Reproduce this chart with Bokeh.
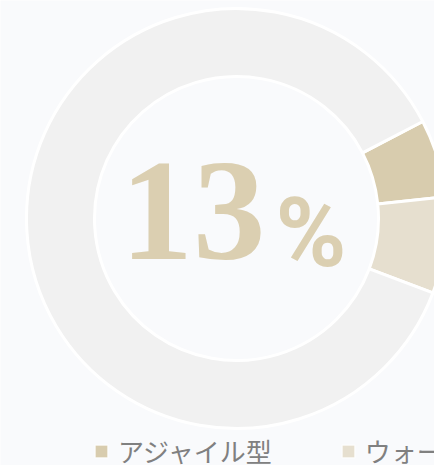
import numpy as np
from bokeh.plotting import figure
from bokeh.models import Range1d, Legend, LegendItem, ColumnDataSource
from bokeh.embed import file_html
from bokeh.resources import INLINE
from bokeh.core.properties import value

# ---- data ----
categories = ["アジャイル型", "ウォーターフォール型", "その他"]
shares = [6.0, 7.4, 86.6]
colors = ["#d8ccae", "#e6dfcf", "#f1f1f1"]
legend_count = 2
center_number = "13"
center_unit = "%"

# ---- layout ----
W, H = 434, 465
BG = "#f9fafc"
p = figure(width=W, height=H, output_backend="svg", toolbar_location=None,
           x_range=Range1d(0, W), y_range=Range1d(0, H), min_border=0)
p.axis.visible = False
p.grid.visible = False
p.outline_line_color = None
p.background_fill_color = BG
p.border_fill_color = BG

cx, cy = 236, H - 218
start0 = np.deg2rad(27.5)
total = float(sum(shares))
ang = np.array(shares) / total * 2 * np.pi
starts = start0 - np.concatenate([[0.0], np.cumsum(ang)[:-1]])
ends = starts - ang

src = ColumnDataSource(dict(cat=categories, start=starts, end=ends, color=colors))
p.annular_wedge(x=cx, y=cy, inner_radius=142, outer_radius=210,
                start_angle="start", end_angle="end", direction="clock",
                fill_color="color", line_color="white", line_width=3,
                source=src)

# legend swatches (proxy renderer with no visible points)
leg_src = ColumnDataSource(dict(x=[np.nan] * len(categories), y=[np.nan] * len(categories),
                                color=colors))
sw = p.scatter(x="x", y="y", marker="square", size=13, fill_color="color",
               line_color="white", line_width=1, source=leg_src)

p.text(x=[cx + 29], y=[254], text=[center_number], text_font=value("Liberation Serif"),
       text_font_style="bold", text_font_size="145px", text_color="#dbcfb1",
       text_align="right", text_baseline="alphabetic")
p.text(x=[cx + 39], y=[233], text=[center_unit], text_font=value("Roboto"),
       text_font_style="bold", text_font_size="96px", text_color="#dbcfb1",
       text_align="left", text_baseline="alphabetic")

legend = Legend(items=[LegendItem(label=categories[i], renderers=[sw], index=i)
                       for i in range(legend_count)],
                orientation="horizontal", location=(85, -4),
                label_text_font="Noto Sans CJK JP", label_text_font_size="26px",
                label_text_color="#808080", glyph_width=32, glyph_height=32,
                label_standoff=1, spacing=60, padding=0, margin=0,
                border_line_color=None, background_fill_alpha=0)
p.add_layout(legend)

open("out.html", "w").write(file_html(p, INLINE))
